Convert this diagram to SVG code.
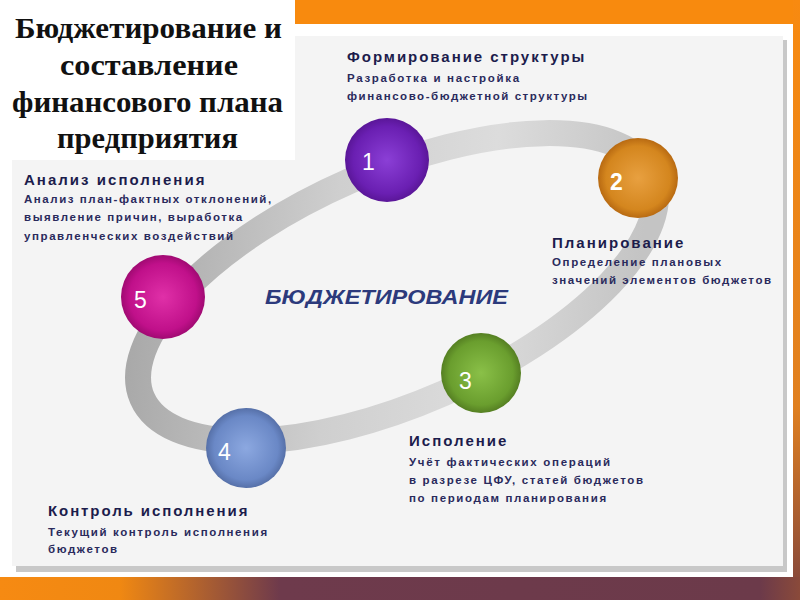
<svg xmlns="http://www.w3.org/2000/svg" width="800" height="600" viewBox="0 0 800 600">
<defs>
<style>
.h{font-family:"Liberation Sans",Arial,sans-serif;font-weight:bold;font-size:15px;fill:#1c1c4c;letter-spacing:0.6px}
.t{font-family:"Liberation Sans",Arial,sans-serif;font-weight:bold;font-size:11.5px;fill:#2a2a5c;letter-spacing:0.9px}
.n{font-family:"Liberation Sans",Arial,sans-serif;font-size:23px;fill:#ffffff}
.title{font-family:"Liberation Serif","Times New Roman",serif;font-weight:bold;font-size:29px;fill:#111111}
</style>
<linearGradient id="bot" x1="0" y1="0" x2="1" y2="0">
<stop offset="0" stop-color="#f68a12"/>
<stop offset="0.15" stop-color="#f08812"/>
<stop offset="0.35" stop-color="#6e3a4c"/>
<stop offset="0.95" stop-color="#6c3a4a"/>
<stop offset="1" stop-color="#8a4a3a"/>
</linearGradient>
<linearGradient id="rs" x1="0" y1="0" x2="0" y2="1">
<stop offset="0" stop-color="#f88a10"/>
<stop offset="0.7" stop-color="#e08020"/>
<stop offset="1" stop-color="#8a4a3a"/>
</linearGradient>
<linearGradient id="ring" gradientUnits="userSpaceOnUse" x1="150" y1="180" x2="600" y2="420">
<stop offset="0" stop-color="#a8a8a8"/>
<stop offset="0.4" stop-color="#cfcfcf"/>
<stop offset="0.7" stop-color="#dcdcdc"/>
<stop offset="1" stop-color="#c4c4c4"/>
</linearGradient>
<radialGradient id="g1" cx="0.5" cy="0.5" r="0.5"><stop offset="0" stop-color="#8b3fd6"/><stop offset="0.8" stop-color="#6a1fb2"/><stop offset="1" stop-color="#5a1698"/></radialGradient>
<radialGradient id="g2" cx="0.5" cy="0.5" r="0.5"><stop offset="0" stop-color="#e8a040"/><stop offset="0.8" stop-color="#d4861e"/><stop offset="1" stop-color="#b86a12"/></radialGradient>
<radialGradient id="g3" cx="0.5" cy="0.5" r="0.5"><stop offset="0" stop-color="#8ac048"/><stop offset="0.8" stop-color="#6a9e2e"/><stop offset="1" stop-color="#557f22"/></radialGradient>
<radialGradient id="g4" cx="0.5" cy="0.5" r="0.5"><stop offset="0" stop-color="#8ca8e0"/><stop offset="0.8" stop-color="#6a88c6"/><stop offset="1" stop-color="#5670a8"/></radialGradient>
<radialGradient id="g5" cx="0.5" cy="0.5" r="0.5"><stop offset="0" stop-color="#e030a8"/><stop offset="0.8" stop-color="#c0108a"/><stop offset="1" stop-color="#a00a72"/></radialGradient>
</defs>
<rect x="0" y="0" width="800" height="600" fill="#ffffff"/>
<rect x="192" y="0" width="608" height="24" fill="#f88a0e"/>
<rect x="793" y="0" width="7" height="580" fill="url(#rs)"/>
<rect x="0" y="577" width="800" height="23" fill="url(#bot)"/>
<rect x="16" y="40" width="771" height="532" fill="#c8c8c8"/>
<rect x="12" y="36" width="771" height="530" fill="#f4f4f4"/>
<rect x="0" y="0" width="295" height="160" fill="#ffffff"/>
<g id="title">
<text class="title" x="15" y="38" textLength="267" lengthAdjust="spacingAndGlyphs">Бюджетирование и</text>
<text class="title" x="60" y="75" textLength="178" lengthAdjust="spacingAndGlyphs">составление</text>
<text class="title" x="12" y="112" textLength="271" lengthAdjust="spacingAndGlyphs">финансового плана</text>
<text class="title" x="57" y="148" textLength="181" lengthAdjust="spacingAndGlyphs">предприятия</text>
</g>
<g id="connectors">
<ellipse cx="397" cy="287" rx="278" ry="116" transform="rotate(-23.6 397 287)" fill="none" stroke="url(#ring)" stroke-width="26"/>
</g>
<text x="265" y="304" font-family="'Liberation Sans',Arial,sans-serif" font-weight="bold" font-style="italic" font-size="20" fill="#2c3a7c" textLength="243" lengthAdjust="spacingAndGlyphs">БЮДЖЕТИРОВАНИЕ</text>
<g id="node1">
<circle cx="387" cy="160" r="42" fill="url(#g1)"/>
<text class="n" x="362" y="170">1</text>
<text class="h" x="347" y="62" textLength="238">Формирование структуры</text>
<text class="t" x="347" y="82" textLength="173">Разработка и настройка</text>
<text class="t" x="347" y="100" textLength="241">финансово-бюджетной структуры</text>
</g>
<g id="node2">
<circle cx="638" cy="178" r="40" fill="url(#g2)"/>
<text class="n" x="610" y="190" font-weight="bold">2</text>
<text class="h" x="552" y="248" textLength="132">Планирование</text>
<text class="t" x="552" y="266" textLength="170">Определение плановых</text>
<text class="t" x="552" y="284" textLength="220">значений элементов бюджетов</text>
</g>
<g id="node3">
<circle cx="481" cy="373" r="40" fill="url(#g3)"/>
<text class="n" x="459" y="389">3</text>
<text class="h" x="409" y="446" textLength="98">Исполение</text>
<text class="t" x="409" y="466" textLength="202">Учёт фактических операций</text>
<text class="t" x="409" y="484" textLength="235">в разрезе ЦФУ, статей бюджетов</text>
<text class="t" x="409" y="502" textLength="198">по периодам планирования</text>
</g>
<g id="node4">
<circle cx="246" cy="448" r="40" fill="url(#g4)"/>
<text class="n" x="218" y="460">4</text>
<text class="h" x="48" y="516" textLength="200">Контроль исполнения</text>
<text class="t" x="48" y="536" textLength="220">Текущий контроль исполнения</text>
<text class="t" x="48" y="553" textLength="70">бюджетов</text>
</g>
<g id="node5">
<circle cx="163" cy="297" r="42" fill="url(#g5)"/>
<text class="n" x="134" y="308">5</text>
<text class="h" x="24" y="185" textLength="181">Анализ исполнения</text>
<text class="t" x="24" y="203" textLength="248">Анализ план-фактных отклонений,</text>
<text class="t" x="24" y="221" textLength="219">выявление причин, выработка</text>
<text class="t" x="24" y="240" textLength="210">управленческих воздействий</text>
</g>
</svg>
